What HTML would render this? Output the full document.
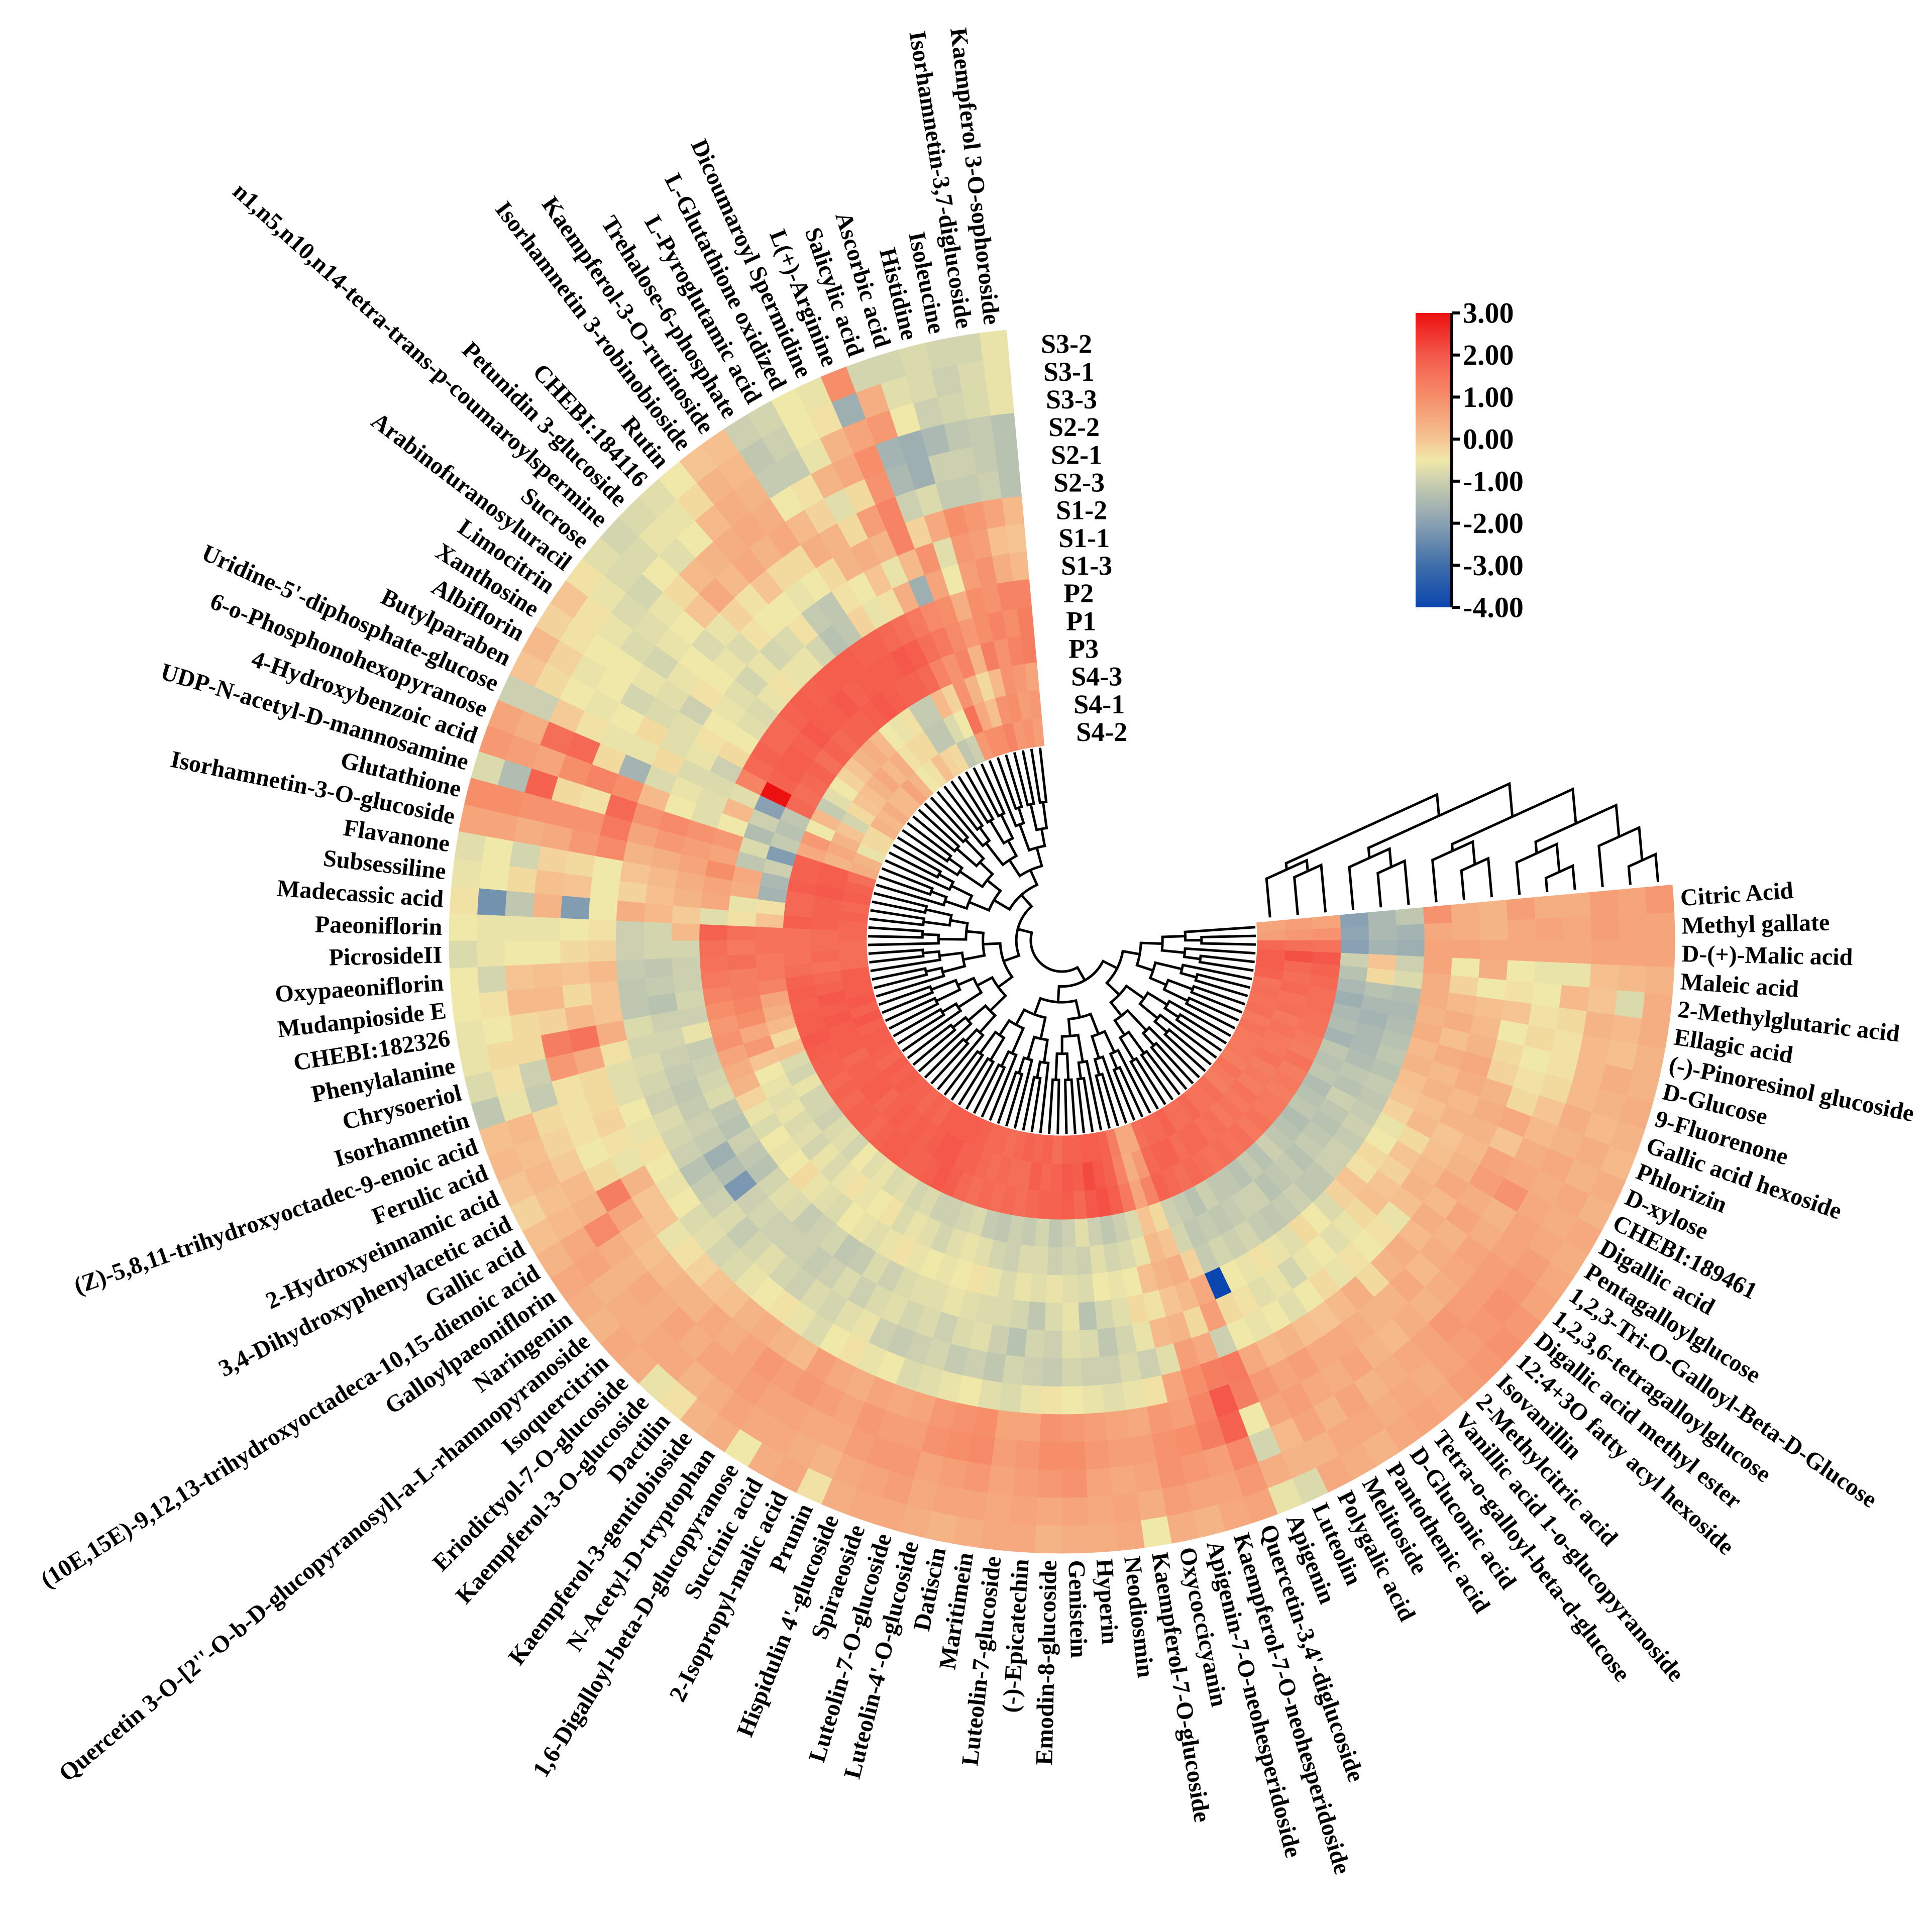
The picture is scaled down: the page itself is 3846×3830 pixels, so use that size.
<!DOCTYPE html>
<html><head><meta charset="utf-8"><style>
html,body{margin:0;padding:0;background:#fff;}
svg{display:block;}
text{font-family:"Liberation Serif","Times New Roman",serif;font-weight:bold;fill:#000;}
</style></head><body>
<svg id="chart" xmlns="http://www.w3.org/2000/svg" width="3846" height="3830" viewBox="0 0 3846 3830">
<rect x="0" y="0" width="3846" height="3830" fill="#fff"/>
<g id="cells"></g>
<g id="rowdendro" fill="none" stroke="#000" stroke-width="5"></g>
<g id="coldendro" fill="none" stroke="#000" stroke-width="5"></g>
<g id="rowlabels"></g>
<g id="samplelabels"></g>
<g id="colorbar">
<defs><linearGradient id="cbgrad" x1="0" y1="0" x2="0" y2="1"></linearGradient></defs>
</g>
</svg>
<script>
const samples=["S3-2","S3-1","S3-3","S2-2","S2-1","S2-3","S1-2","S1-1","S1-3","P2","P1","P3","S4-3","S4-1","S4-2"];
const metabolites=["Kaempferol 3-O-sophoroside","Isorhamnetin-3,7-diglucoside","Isoleucine","Histidine","Ascorbic acid","Salicylic acid","L(+)-Arginine","Dicoumaroyl Spermidine","L-Glutathione oxidized","L-Pyroglutamic acid","Trehalose-6-phosphate","Kaempferol-3-O-rutinoside","Isorhamnetin 3-robinobioside","Rutin","CHEBI:184116","Petunidin 3-glucoside","n1,n5,n10,n14-tetra-trans-p-coumaroylspermine","Sucrose","Arabinofuranosyluracil","Limocitrin","Xanthosine","Albiflorin","Butylparaben","Uridine-5'-diphosphate-glucose","6-o-Phosphonohexopyranose","4-Hydroxybenzoic acid","UDP-N-acetyl-D-mannosamine","Glutathione","Isorhamnetin-3-O-glucoside","Flavanone","Subsessiline","Madecassic acid","Paeoniflorin","PicrosideII","Oxypaeoniflorin","Mudanpioside E","CHEBI:182326","Phenylalanine","Chrysoeriol","Isorhamnetin","(Z)-5,8,11-trihydroxyoctadec-9-enoic acid","Ferulic acid","2-Hydroxyeinnamic acid","3,4-Dihydroxyphenylacetic acid","Gallic acid","(10E,15E)-9,12,13-trihydroxyoctadeca-10,15-dienoic acid","Galloylpaeoniflorin","Naringenin","Quercetin 3-O-[2''-O-b-D-glucopyranosyl]-a-L-rhamnopyranoside","Isoquercitrin","Eriodictyol-7-O-glucoside","Kaempferol-3-O-glucoside","Dactilin","Kaempferol-3-gentiobioside","N-Acetyl-D-tryptophan","1,6-Digalloyl-beta-D-glucopyranose","Succinic acid","2-Isopropyl-malic acid","Prunin","Hispidulin 4'-glucoside","Spiraeoside","Luteolin-7-O-glucoside","Luteolin-4'-O-glucoside","Datiscin","Maritimein","Luteolin-7-glucoside","(-)-Epicatechin","Emodin-8-glucoside","Genistein","Hyperin","Neodiosmin","Kaempferol-7-O-glucoside","Oxycoccicyanin","Apigenin-7-O-neohesperidoside","Kaempferol-7-O-neohesperidoside","Quercetin-3,4'-diglucoside","Apigenin","Luteolin","Polygalic acid","Melitoside","Pantothenic acid","D-Gluconic acid","Tetra-o-galloyl-beta-d-glucose","Vanillic acid 1-o-glucopyranoside","2-Methylcitric acid","Isovanillin","12:4+3O fatty acyl hexoside","Digallic acid methyl ester","1,2,3,6-tetragalloylglucose","1,2,3-Tri-O-Galloyl-Beta-D-Glucose","Pentagalloylglucose","Digallic acid","CHEBI:189461","D-xylose","Phlorizin","Gallic acid hexoside","9-Fluorenone","D-Glucose","(-)-Pinoresinol glucoside","Ellagic acid","2-Methylglutaric acid","Maleic acid","D-(+)-Malic acid","Methyl gallate","Citric Acid"];
const values=[
[-0.6,-0.6,-0.6,-1.3,-1.3,-1.3,0.2,0.0,0.2,1.2,1.3,1.3,0.6,0.8,0.7],
[-0.9,-0.8,-0.8,-1.1,-1.1,-1.0,0.6,0.1,0.4,1.2,1.0,1.2,0.8,0.7,0.9],
[-0.9,-1.0,-0.9,-1.2,-1.0,-1.1,0.8,0.7,0.9,0.9,1.2,0.9,0.9,1.0,0.8],
[-0.8,-0.8,-1.0,-1.5,-1.0,-1.1,1.0,0.8,0.7,1.0,1.0,1.3,0.2,0.9,1.2],
[-0.9,-0.7,-0.5,-1.7,-1.7,-0.8,0.5,-0.7,-0.5,0.4,0.8,0.3,-0.3,0.1,1.0],
[-0.9,0.4,0.8,-1.6,-1.5,-1.0,-0.2,0.9,0.6,1.0,1.1,1.2,0.3,0.5,1.0],
[1.0,-1.7,0.6,1.0,0.9,1.2,1.2,0.2,-1.7,1.1,1.4,0.9,0.9,1.5,0.8],
[-0.6,-0.4,0.3,0.5,-0.3,0.7,0.3,-0.6,0.4,1.4,1.6,1.2,-0.2,-0.5,-1.0],
[-0.5,-0.5,-0.6,0.3,-0.7,-0.3,0.4,0.0,-0.4,1.6,1.9,1.7,0.2,-0.8,-1.2],
[-0.9,-1.0,-1.1,-0.4,-0.2,0.3,0.3,-0.5,-0.6,1.7,2.0,1.8,-1.1,-1.2,-0.3],
[-1.0,-1.2,-1.1,-0.5,0.2,0.4,-0.3,-0.4,-0.2,1.8,1.9,1.8,-1.1,-1.2,-0.2],
[0.1,0.2,0.3,0.4,0.5,-0.3,-0.5,-1.2,-1.2,1.8,1.9,1.9,-0.4,-0.3,0.1],
[0.0,0.3,0.4,0.5,0.3,-0.3,-0.6,-1.1,-1.3,1.9,1.9,2.0,-0.6,-0.3,-0.4],
[-0.5,-0.3,0.2,0.4,0.5,0.0,-0.5,-0.4,-0.9,1.9,1.8,1.9,-0.5,-0.4,-0.5],
[-0.7,-0.6,-0.5,0.3,0.2,-0.4,-0.5,-0.8,-0.6,1.9,2.0,1.8,0.2,0.4,0.3],
[-0.8,-0.6,-0.7,0.2,0.5,-0.2,-0.4,-0.9,-0.6,1.8,1.9,1.8,0.4,0.2,0.6],
[-0.9,-0.8,-0.5,-0.3,0.0,-0.6,-0.8,-0.6,-0.4,1.9,1.9,1.7,0.3,0.5,0.2],
[-0.7,-0.8,-0.9,-0.6,-0.5,-0.8,-0.6,-0.9,-0.6,1.8,2.0,1.8,0.0,0.3,0.2],
[-0.4,-0.6,-0.8,-0.7,-0.6,-0.5,-0.5,-0.7,-0.8,1.7,1.8,1.6,-0.2,0.1,0.4],
[0.0,-0.4,-0.6,-0.8,-0.9,-0.6,-0.4,-0.6,-0.7,1.7,1.9,1.8,-0.5,0.0,0.2],
[-0.2,-0.4,-0.5,-0.5,-0.6,-0.7,-1.0,-0.5,-0.5,1.8,1.9,1.7,-0.7,-0.3,0.3],
[0.2,-0.2,-0.6,-0.5,-0.9,-0.8,-0.7,-0.4,-0.3,1.7,1.8,1.6,-1.1,-0.9,-0.3],
[0.0,-0.3,-0.5,-0.6,-0.5,-0.3,-0.7,-0.6,-1.0,1.2,3.0,1.7,0.2,0.0,-0.3],
[-1.0,-1.0,-0.1,-0.4,-0.6,-0.6,-0.3,-0.8,-0.8,-0.7,-2.0,-1.2,-0.5,0.3,-0.6],
[0.6,0.4,1.6,1.7,-0.3,-1.6,-0.8,-0.6,-0.7,0.2,-1.0,-1.3,0.8,0.5,0.3],
[0.8,0.7,0.6,1.0,1.2,1.0,0.2,-0.5,-0.7,-0.5,-1.4,-1.1,0.5,0.3,0.4],
[-0.8,-1.4,1.8,-0.3,-0.4,1.7,0.9,1.1,0.9,0.8,-0.8,-2.1,1.8,1.9,1.6],
[1.0,1.0,0.9,0.9,0.9,1.4,0.6,0.8,0.7,0.6,-1.2,-1.0,1.8,1.9,1.8],
[0.6,0.6,0.4,0.5,0.8,1.1,0.3,0.4,0.6,1.0,0.5,-1.5,1.9,2.0,1.9],
[-0.7,-0.5,-0.9,-0.2,-0.3,-0.5,0.0,0.2,0.4,0.6,0.4,-1.6,1.7,1.8,1.7],
[-0.6,-0.5,-0.3,0.1,0.0,-0.5,-0.2,0.1,0.3,0.5,-0.6,-0.4,1.7,1.8,1.8],
[-0.4,-2.3,-1.2,0.3,-2.1,-0.5,0.4,0.2,-0.1,-0.7,-0.4,0.0,1.9,1.8,1.7],
[-0.5,-0.6,-0.6,-0.6,-0.5,-0.4,-1.0,-0.9,0.2,1.8,1.6,1.5,1.5,1.6,1.7],
[-0.8,-0.6,-0.5,-0.5,-0.3,-0.2,-1.0,-0.9,-0.9,1.6,1.4,1.5,1.5,1.6,1.6],
[-0.5,-0.9,0.0,0.1,0.0,0.2,-1.1,-1.2,-1.0,1.5,1.6,1.4,1.5,1.7,1.6],
[-0.5,-0.4,0.2,0.2,-0.3,0.0,-1.2,-1.1,-1.0,1.4,1.3,1.4,1.6,1.5,1.6],
[-0.6,-0.5,-0.3,-0.2,0.2,0.0,-1.2,-1.3,-0.9,1.2,1.3,1.2,1.8,1.7,1.9],
[-0.6,-0.3,-0.3,1.3,1.5,0.4,-0.8,-1.0,-1.0,1.0,1.2,0.6,1.9,1.8,1.9],
[-0.8,-0.4,-1.0,0.8,0.5,-0.4,-0.9,-0.9,-0.6,0.8,1.0,0.4,1.8,2.0,1.9],
[-1.2,-0.6,-1.1,-0.4,-0.3,-0.7,-0.8,-1.0,-1.1,0.9,0.5,0.2,1.9,1.9,2.0],
[0.1,0.2,-0.3,-0.4,-0.3,-0.7,-0.9,-1.1,-1.0,0.6,0.8,-0.3,1.9,2.0,1.8],
[0.2,0.1,-0.2,-0.4,-0.2,-0.5,-1.0,-1.2,-0.9,0.4,0.0,0.1,2.0,1.9,2.0],
[0.0,0.2,-0.1,-0.5,-0.4,-0.6,-0.8,-1.1,-0.8,0.3,-0.5,-0.8,1.9,1.9,1.8],
[-0.2,0.1,0.2,-0.3,-0.6,-0.4,-0.9,-1.0,-1.2,-0.2,-0.6,-0.9,1.8,1.9,1.9],
[0.1,0.2,0.3,1.3,0.3,-0.5,-1.0,-1.1,-1.3,-0.6,-0.7,-0.6,1.8,1.7,1.9],
[0.3,0.5,1.1,0.6,0.0,-0.6,-1.3,-1.7,-1.0,-0.8,-0.6,-0.9,1.7,1.8,1.8],
[0.5,0.6,0.4,0.2,0.0,-0.5,-1.1,-1.4,-1.2,-0.5,-0.8,-0.9,1.8,1.8,1.7],
[0.4,0.3,0.3,0.1,-0.6,-0.8,-1.0,-2.2,-1.3,-0.6,-0.7,-1.0,1.7,1.9,1.9],
[0.3,0.4,0.5,0.2,-0.4,-0.7,-0.8,-1.0,-0.9,-0.5,-0.9,-0.8,1.8,1.9,1.8],
[0.5,0.4,0.4,0.3,-0.2,-0.9,-1.1,-0.9,-0.7,-0.3,-0.6,-0.7,1.8,1.7,1.9],
[0.4,0.5,0.6,0.3,0.0,-0.8,-0.9,-1.0,-0.8,-0.6,-0.8,-0.9,1.7,1.8,1.8],
[-0.6,0.5,0.4,0.5,0.1,-0.6,-0.7,-1.0,-1.1,-0.7,-0.6,-0.5,1.8,1.9,1.8],
[-0.4,0.3,0.6,0.4,0.3,-0.5,-0.9,-1.0,-1.0,-0.8,-0.4,-0.7,1.9,1.8,1.7],
[0.3,0.4,0.6,0.6,0.4,-0.4,-1.0,-1.1,-0.9,-0.5,-0.6,-0.6,1.9,1.9,1.8],
[0.4,0.6,0.7,0.8,0.3,-0.6,-0.8,-1.0,-1.2,-0.6,-0.5,-0.8,1.8,1.8,1.7],
[-0.5,0.5,0.6,0.7,0.2,-0.8,-0.9,-0.8,-1.1,-0.7,-0.4,-0.7,1.8,1.9,1.9],
[0.4,0.5,0.6,0.8,0.7,-0.5,-0.7,-1.0,-0.8,-0.6,-0.8,-0.9,1.9,2.0,1.9],
[0.5,0.4,0.5,0.7,0.5,-0.4,-0.6,-0.8,-1.0,-0.4,-0.6,-0.8,2.0,2.0,1.9],
[-0.4,0.3,0.5,0.6,0.4,-0.6,-1.0,-0.7,-0.8,-0.6,-0.7,-1.0,1.9,1.8,1.9],
[0.4,0.5,0.7,0.8,0.6,-0.5,-1.1,-0.9,-0.7,-0.5,-0.9,-1.0,1.7,1.8,1.8],
[0.5,0.6,0.8,0.7,0.5,-0.8,-1.0,-0.8,-0.7,-0.6,-0.7,-0.9,1.6,1.7,1.7],
[0.5,0.7,0.8,0.7,0.6,-0.7,-0.9,-1.0,-0.6,-0.5,-0.6,-0.8,1.7,1.6,1.7],
[0.4,0.5,0.6,0.9,0.8,-0.6,-1.1,-0.8,-0.7,-0.4,-0.7,-1.1,1.6,1.7,1.6],
[0.3,0.6,0.7,1.0,0.9,-0.5,-1.0,-0.7,-0.8,-0.6,-0.9,-1.2,1.7,1.6,1.7],
[0.4,0.6,0.8,1.1,1.0,-0.7,-1.2,-1.0,-0.8,-0.8,-1.0,-1.0,1.6,1.6,1.8],
[0.5,0.5,0.6,0.7,0.6,-0.8,-0.9,-1.3,-0.9,-0.6,-0.8,-1.1,1.7,1.9,1.7],
[0.5,0.6,0.7,0.8,0.6,-0.6,-1.0,-0.9,-1.2,-0.7,-0.8,-0.9,1.8,1.7,1.8],
[0.3,0.5,0.8,1.0,0.9,-0.4,-1.1,-1.0,-0.8,-0.6,-1.0,-1.2,1.8,1.8,1.6],
[0.4,0.6,0.9,1.0,0.8,-0.5,-0.9,-0.7,-0.6,-0.7,-0.9,-1.0,1.9,2.0,1.8],
[0.4,0.5,0.6,0.8,0.7,-0.6,-1.0,-0.8,-1.3,-0.8,-1.0,-0.7,1.7,1.9,1.8],
[0.5,0.6,0.5,0.7,0.6,-0.7,-1.0,-1.2,-0.9,-0.5,-0.7,-1.0,2.0,2.2,1.9],
[-0.5,0.4,0.6,0.7,0.5,-0.6,-0.8,-0.9,-0.7,-0.6,-0.9,-1.2,2.1,2.0,1.9],
[0.4,0.7,0.9,0.9,0.8,-0.4,-1.0,-0.6,-0.3,-0.5,-0.8,-1.0,1.9,1.8,1.8],
[0.3,0.6,0.8,1.0,0.7,0.6,-0.7,0.2,-0.4,0.1,-0.6,-0.8,1.4,1.2,1.3],
[0.5,0.6,0.7,1.3,1.2,1.0,0.7,0.3,0.0,0.3,0.2,0.0,0.6,0.4,0.5],
[0.6,0.8,1.1,1.8,2.0,1.3,0.5,-0.3,0.2,0.4,0.0,-0.3,1.2,0.8,0.5],
[-0.6,0.4,-0.9,-0.5,1.3,1.4,-1.0,0.7,0.5,-0.2,-0.9,-1.0,1.8,1.7,1.6],
[-0.8,0.3,0.2,0.6,0.8,0.5,-0.5,-0.3,-4.0,-1.1,-1.2,-1.1,1.7,1.8,1.7],
[0.5,0.3,0.6,0.7,0.6,0.2,-0.6,-0.4,-0.5,-0.9,-1.1,-1.3,1.6,1.8,1.7],
[0.4,0.5,0.3,0.5,0.7,0.3,-0.5,-0.7,-0.6,-1.0,-1.2,-1.0,1.7,1.6,1.8],
[0.3,0.5,0.6,0.4,0.5,0.1,-0.7,-0.6,-0.4,-0.9,-1.1,-1.2,1.6,1.7,1.6],
[0.5,0.4,0.3,0.6,0.5,0.0,-0.5,-0.9,-0.6,-1.1,-1.0,-1.2,1.5,1.7,1.6],
[0.6,0.5,0.4,0.3,0.4,0.2,-0.3,-0.6,-0.7,-1.2,-1.0,-1.3,1.6,1.5,1.7],
[0.5,0.4,0.5,0.2,0.3,0.4,-0.6,-0.5,-0.3,-1.1,-1.3,-1.1,1.5,1.6,1.5],
[0.7,0.6,0.6,0.4,0.3,-0.3,-0.4,-0.7,-0.5,-1.0,-1.2,-1.3,1.6,1.4,1.5],
[0.8,0.7,0.8,0.3,0.5,0.3,-0.5,-0.6,-0.8,-1.2,-1.1,-1.0,1.4,1.5,1.6],
[0.9,0.8,0.7,0.4,0.2,0.4,-0.4,-0.3,-0.2,-1.2,-1.3,-1.2,1.5,1.4,1.3],
[0.8,0.9,0.7,0.5,0.4,0.2,-0.6,0.1,0.0,-1.0,-1.1,-1.3,1.4,1.5,1.4],
[0.6,0.8,0.7,0.6,0.3,0.4,0.1,0.0,-0.4,-1.0,-1.2,-1.4,1.4,1.3,1.5],
[0.5,0.7,0.6,0.4,0.6,0.2,0.3,-0.2,-0.3,-1.1,-1.3,-1.2,1.3,1.4,1.3],
[0.4,0.5,0.6,0.3,0.4,0.5,0.2,0.0,-0.5,-1.0,-1.2,-1.3,1.4,1.3,1.4],
[0.5,0.4,0.5,0.9,0.7,0.3,0.1,-0.3,-0.6,-1.1,-1.0,-1.4,1.3,1.5,1.4],
[0.3,0.5,0.4,0.5,0.6,0.2,0.0,0.2,-0.2,-1.2,-1.3,-1.2,1.5,1.4,1.4],
[0.4,0.3,0.5,0.4,0.0,0.3,0.3,0.1,0.0,-1.1,-1.2,-1.3,1.3,1.4,1.5],
[0.2,0.4,0.3,0.2,0.5,0.4,0.2,0.3,0.1,-1.3,-1.4,-1.2,1.4,1.5,1.4],
[0.3,0.2,0.4,0.0,-0.3,0.3,0.4,0.2,0.3,-1.2,-1.5,-1.6,1.5,1.4,1.6],
[0.4,0.3,0.2,-0.3,-0.4,-0.2,0.5,0.4,0.2,-1.3,-1.5,-1.4,1.5,1.6,1.5],
[0.3,0.4,0.2,-0.4,-0.5,-0.3,0.3,0.1,0.4,-1.4,-1.6,-1.5,1.6,1.5,1.6],
[0.3,0.1,0.2,-0.4,-0.3,-0.5,0.2,0.4,0.3,-1.5,-1.5,-1.7,1.6,1.7,1.5],
[0.4,0.2,0.3,-0.3,-0.4,0.0,0.1,0.2,0.4,-1.4,-1.3,-1.5,1.7,1.6,1.8],
[0.4,-0.8,0.0,0.2,-0.5,-0.4,-0.5,-0.2,0.4,-0.8,-0.3,-1.3,1.8,1.7,1.9],
[0.3,0.2,0.1,-0.6,-0.6,-0.5,0.4,-0.5,0.6,-1.0,0.0,-1.0,2.0,2.1,1.9],
[0.6,0.6,0.6,0.5,0.5,0.5,0.5,0.6,0.6,-1.7,-1.6,-2.0,1.5,1.6,1.7],
[0.6,0.6,0.7,0.5,0.6,0.5,0.3,0.4,0.5,-1.6,-1.5,-1.9,0.9,0.8,0.7],
[0.8,0.6,0.7,0.4,0.4,0.7,0.3,0.4,0.9,-1.2,-1.5,-2.0,0.6,0.7,0.6]
];
const colorbarTicks=[3,2,1,0,-1,-2,-3,-4];
const colorStopValues=[3,2,1,0,-0.5,-1,-2,-3,-4];
const colorStopRGB=[[236,16,16],[245,88,74],[246,142,106],[245,196,146],[240,232,168],[204,208,176],[138,161,179],[62,110,168],[10,70,175]];
const colMergeA=[13,14,10,11,7,8,4,5,1,2,22,20,18,16];
const colMergeB=[12,15,9,17,6,19,3,21,0,23,24,25,26,27];
const colMergeH=[93,100,86,108,76,107,46,87,54,105,139,164,179,167];

const NS="http://www.w3.org/2000/svg";
const cx=2114, cy=1872, R0=389, R1=1220;
const startAng=-5.2, span=270;
const nItems=metabolites.length, nRings=samples.length;
const step=span/nItems, ringW=(R1-R0)/nRings;

function colorFor(v){
  v=Math.max(-4,Math.min(3,v));
  for(let i=0;i<colorStopValues.length-1;i++){
    const a=colorStopValues[i], b=colorStopValues[i+1];
    if(v<=a && v>=b){
      const t=(a-v)/(a-b);
      const c0=colorStopRGB[i], c1=colorStopRGB[i+1];
      return "rgb("+c0.map((c,k)=>Math.round(c+(c1[k]-c)*t)).join(",")+")";
    }
  }
  return "rgb(10,70,175)";
}
function angOf(i){return startAng-i*step;}
function rOuterOf(k){return R1-k*ringW;}
function pt(r,deg){const a=deg*Math.PI/180;return [cx+r*Math.sin(a), cy-r*Math.cos(a)];}
function f(n){return n.toFixed(2);}

const cellsG=document.getElementById('cells');
for(let i=0;i<nItems;i++){
  const ta=angOf(i), tb=angOf(i+1);
  for(let k=0;k<nRings;k++){
    const ro=rOuterOf(k), ri=ro-ringW;
    const p1=pt(ro,ta),p2=pt(ro,tb),p3=pt(ri,tb),p4=pt(ri,ta);
    const d="M"+f(p1[0])+","+f(p1[1])+"A"+f(ro)+","+f(ro)+" 0 0 0 "+f(p2[0])+","+f(p2[1])+"L"+f(p3[0])+","+f(p3[1])+"A"+f(ri)+","+f(ri)+" 0 0 1 "+f(p4[0])+","+f(p4[1])+"Z";
    const el=document.createElementNS(NS,'path');
    el.setAttribute('d',d);
    const c=colorFor(values[i][k]);
    el.setAttribute('fill',c);
    el.setAttribute('stroke',c);
    el.setAttribute('stroke-width','0.8');
    
    
    cellsG.appendChild(el);
  }
}

const rd=document.getElementById('rowdendro');
const rootR=62;
function nodeR(n){return rootR+(R0-10-rootR)*(1-Math.pow(Math.log(n)/Math.log(nItems),0.6));}
let dPath="";
function build(lo,hi){
  if(lo===hi){return {t:angOf(lo+0.5), r:R0-3};}
  const mid=Math.floor((lo+hi)/2);
  const a=build(lo,mid), b=build(mid+1,hi);
  const r=nodeR(hi-lo+1);
  const pa0=pt(a.r,a.t), pa1=pt(r,a.t), pb0=pt(b.r,b.t), pb1=pt(r,b.t);
  const large=(a.t-b.t)>180?1:0;
  dPath+="M"+f(pa0[0])+","+f(pa0[1])+"L"+f(pa1[0])+","+f(pa1[1])+"A"+f(r)+","+f(r)+" 0 "+large+" 0 "+f(pb1[0])+","+f(pb1[1])+"L"+f(pb0[0])+","+f(pb0[1]);
  return {t:(a.t+b.t)/2, r:r};
}
build(0,nItems-1);
const rdp=document.createElementNS(NS,'path');
rdp.setAttribute('d',dPath);


rd.appendChild(rdp);

const cd=document.getElementById('coldendro');
const endAng=startAng-span;
cd.setAttribute('transform','translate('+cx+','+cy+') rotate('+(endAng-90+360)%360+')');
const shear=0.35, leafGap=8;
const nodeU=[], nodeTop=[];
for(let k=0;k<nRings;k++){nodeU[k]=R1-(k+0.5)*ringW; nodeTop[k]=leafGap;}
let cPath="";
for(let m=0;m<colMergeA.length;m++){
  const a=colMergeA[m], b=colMergeB[m], h=colMergeH[m];
  const ua=nodeU[a], ub=nodeU[b], un=(ua+ub)/2;
  const ha=h+shear*(ua-un), hb=h+shear*(ub-un);
  cPath+="M"+f(ua)+","+f(-nodeTop[a])+"L"+f(ua)+","+f(-ha)+"L"+f(ub)+","+f(-hb)+"L"+f(ub)+","+f(-nodeTop[b]);
  nodeU.push(un); nodeTop.push(h);
}
const cdp=document.createElementNS(NS,'path');
cdp.setAttribute('d',cPath);


cd.appendChild(cdp);

const rl=document.getElementById('rowlabels');
for(let i=0;i<nItems;i++){
  const t=angOf(i+0.5);
  const norm=((t%360)+360)%360;
  const p=pt(R1+14,t);
  const tx=document.createElementNS(NS,'text');
  tx.setAttribute('x',f(p[0]));
  tx.setAttribute('y',f(p[1]));
  tx.setAttribute('font-size','48');
  tx.setAttribute('dominant-baseline','central');
  if(norm<180){
    tx.setAttribute('text-anchor','start');
    tx.setAttribute('transform','rotate('+f(norm-90)+' '+f(p[0])+' '+f(p[1])+')');
  } else {
    tx.setAttribute('text-anchor','end');
    tx.setAttribute('transform','rotate('+f(norm+90-360)+' '+f(p[0])+' '+f(p[1])+')');
  }
  tx.textContent=metabolites[i];
  
  
  rl.appendChild(tx);
}

const sl=document.getElementById('samplelabels');
for(let k=0;k<nRings;k++){
  const r=R1-(k+0.5)*ringW;
  const p=pt(r,startAng);
  const tx=document.createElementNS(NS,'text');
  tx.setAttribute('x',f(p[0]+66));
  tx.setAttribute('y',f(p[1]));
  tx.setAttribute('font-size','54');
  tx.setAttribute('dominant-baseline','central');
  tx.textContent=samples[k];
  
  
  sl.appendChild(tx);
}

const cb=document.getElementById('colorbar');
const grad=document.getElementById('cbgrad');
const cbTop=623, cbBot=1209, cbX=2818, cbW=72;
const vmax=3, vmin=-4;
for(let i=0;i<colorStopValues.length;i++){
  const s=document.createElementNS(NS,'stop');
  s.setAttribute('offset',((vmax-colorStopValues[i])/(vmax-vmin)).toFixed(4));
  const c=colorStopRGB[i];
  s.setAttribute('stop-color','rgb('+c.join(',')+')');
  grad.appendChild(s);
}
const bar=document.createElementNS(NS,'rect');
bar.setAttribute('x',cbX);bar.setAttribute('y',cbTop);bar.setAttribute('width',cbW);bar.setAttribute('height',cbBot-cbTop);
bar.setAttribute('fill','url(#cbgrad)');


cb.appendChild(bar);
const axl=document.createElementNS(NS,'line');
axl.setAttribute('x1',cbX+cbW);axl.setAttribute('x2',cbX+cbW);axl.setAttribute('y1',cbTop);axl.setAttribute('y2',cbBot);
axl.setAttribute('stroke','#000');axl.setAttribute('stroke-width','6');


cb.appendChild(axl);
for(const v of colorbarTicks){
  const y=cbTop+(vmax-v)/(vmax-vmin)*(cbBot-cbTop);
  const tk=document.createElementNS(NS,'line');
  tk.setAttribute('x1',cbX+cbW);tk.setAttribute('x2',cbX+cbW+16);tk.setAttribute('y1',f(y));tk.setAttribute('y2',f(y));
  tk.setAttribute('stroke','#000');tk.setAttribute('stroke-width','6');
  
  
  cb.appendChild(tk);
  const tx=document.createElementNS(NS,'text');
  tx.setAttribute('x',cbX+cbW+22);tx.setAttribute('y',f(y));
  tx.setAttribute('font-size','58');
  tx.setAttribute('dominant-baseline','central');
  tx.textContent=v.toFixed(2);
  
  
  cb.appendChild(tx);
}
</script>
</body></html>
